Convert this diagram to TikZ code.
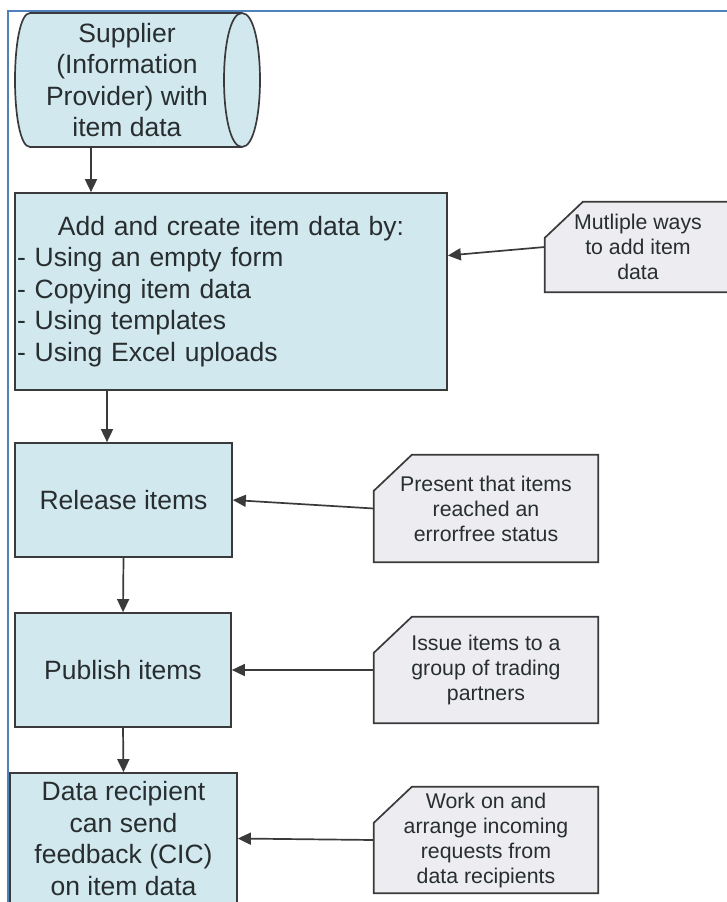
\documentclass[tikz,border=0pt]{standalone}
\usepackage{fontspec}
\setmainfont{Liberation Sans}
\usepackage{xcolor}
\usetikzlibrary{arrows.meta,backgrounds}

\definecolor{boxblue}{RGB}{209,232,239}
\definecolor{notegray}{RGB}{236,236,241}
\definecolor{edgegray}{RGB}{58,58,58}
\definecolor{inkgray}{RGB}{40,46,48}
\definecolor{frameblue}{RGB}{79,129,189}

\begin{document}
\begin{tikzpicture}[x=1pt,y=-1pt,
        stepbox/.style={draw=edgegray, line width=1.7pt, fill=boxblue, text=inkgray,
            inner sep=2pt, font=\fontsize{26.5}{31.5}\selectfont, align=center},
        remark/.style={text=inkgray, inner sep=2pt,
            font=\fontsize{21.3}{25}\selectfont, align=center},
        remarkline/.style={draw=edgegray, line width=1.7pt, fill=notegray},
        flow/.style={draw=edgegray, line width=1.7pt,
            -{Triangle[length=13pt,width=12pt]}}]

        \useasboundingbox (0,0) rectangle (727,902);
        \clip (0,0) rectangle (727,902);

        % page frame
        \draw[frameblue, line width=2.8pt] (8,902) -- (8,11) -- (727,11);

        % stored data symbol
        \draw[edgegray, line width=1.7pt, fill=boxblue] (30,13) -- (242,13)
            .. controls (266,13) and (266,147) .. (242,147) -- (30,147)
            .. controls (10,147) and (10,13) .. (30,13) -- cycle;
        \draw[edgegray, line width=1.7pt] (242,13) .. controls (218,13) and (218,147) .. (242,147);

        \node[text=inkgray, inner sep=0pt, minimum width=194pt, minimum height=134pt,
            font=\fontsize{26.5}{31.5}\selectfont, align=center] (supplier) at (127,80)
            {Supplier\\(Information\\Provider) with\\item data};

        \node[stepbox, minimum width=432pt, minimum height=197pt, text width=428pt,
            align=left] (addbox) at (231,291.5)
            {\hfill Add and create item data by:\hfill\null\\- Using an empty form\\- Copying item data\\- Using templates\\- Using Excel uploads};
        \node[stepbox, minimum width=217pt, minimum height=114pt] (release) at (123.5,500) {Release items};
        \node[stepbox, minimum width=216pt, minimum height=114pt] (publish) at (123,670) {Publish items};
        \node[stepbox, minimum width=227pt, minimum height=131pt] (recipient) at (123.5,838.5)
            {Data recipient\\can send\\feedback (CIC)\\on item data};

        \node[remark, minimum width=186pt, minimum height=90pt] (note1) at (638,247)
            {Mutliple ways\\to add item\\data};
        \node[remark, minimum width=224pt, minimum height=107pt] (note2) at (486,508.5)
            {Present that items\\reached an\\errorfree status};
        \node[remark, minimum width=224pt, minimum height=106pt] (note3) at (486,670)
            {Issue items to a\\group of trading\\partners};
        \node[remark, minimum width=224pt, minimum height=106pt] (note4) at (486,840)
            {Work on and\\arrange incoming\\requests from\\data recipients};

        % note outlines, top left corner cut off
        \begin{scope}[on background layer]
            \foreach \n in {note1,note2,note3,note4}
                \draw[remarkline] ([yshift=-36pt]\n.north west) -- ([xshift=38pt]\n.north west)
                    -- (\n.north east) -- (\n.south east) -- (\n.south west) -- cycle;
        \end{scope}

        % flow
        \draw[flow] ([xshift=-36pt]supplier.south) -- ([xshift=-36pt]supplier.south |- addbox.north);
        \draw[flow] ([xshift=-124pt]addbox.south) -- ([xshift=-124pt]addbox.south |- release.north);
        \draw[flow] (release.south) -- (publish.north);
        \draw[flow] (publish.south) -- (recipient.north);

        % remarks
        \draw[flow] (note1.west) -- ([yshift=36pt]addbox.east);
        \draw[flow] (note2.west) -- (release.east);
        \draw[flow] (note3.west) -- (publish.east);
        \draw[flow] (note4.west) -- (recipient.east);
    \end{tikzpicture}
\end{document}
